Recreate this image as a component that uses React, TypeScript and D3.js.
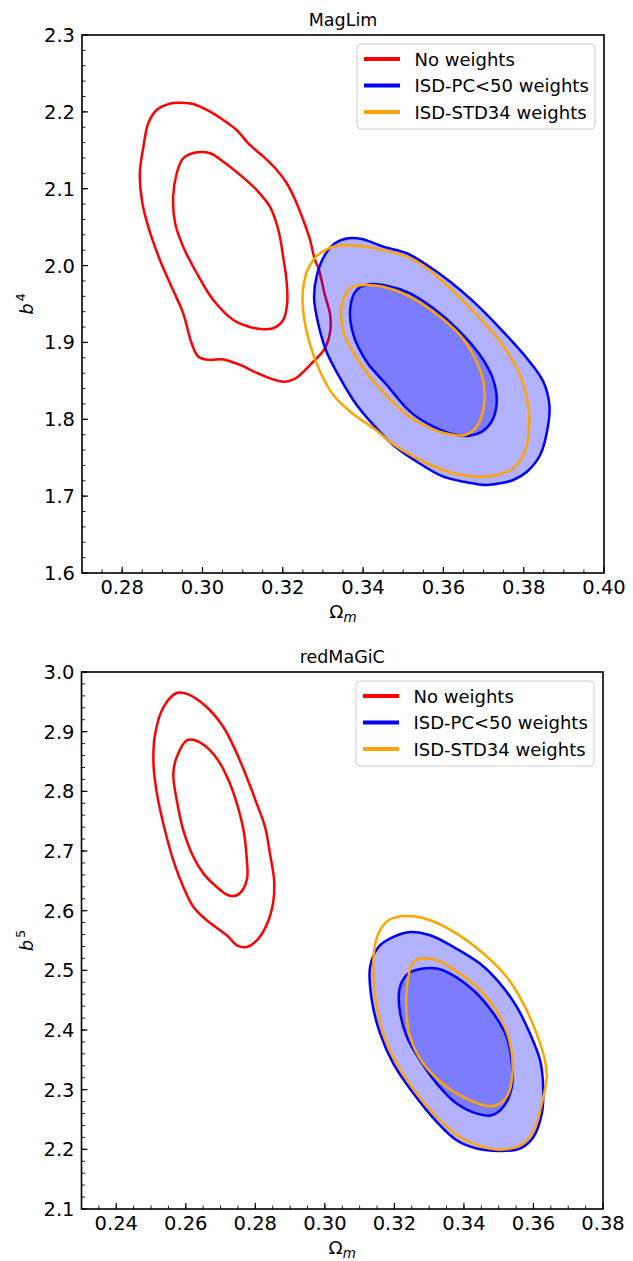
import React from 'react';
import * as d3 from 'd3';

type Pt = [number, number];

// ---------- legend / series ----------
const seriesNames = ['No weights', 'ISD-PC<50 weights', 'ISD-STD34 weights'];
const seriesColors = ['#ff0000', '#0000ff', '#ffa500'];

// ---------- ticks ----------
const magLimXTicks = [0.28, 0.30, 0.32, 0.34, 0.36, 0.38, 0.40];
const magLimYTicks = [1.6, 1.7, 1.8, 1.9, 2.0, 2.1, 2.2, 2.3];
const redMaGiCXTicks = [0.24, 0.26, 0.28, 0.30, 0.32, 0.34, 0.36, 0.38];
const redMaGiCYTicks = [2.1, 2.2, 2.3, 2.4, 2.5, 2.6, 2.7, 2.8, 2.9, 3.0];

// ---------- MagLim contours (Omega_m, b^4) ----------
const magLimNoWOuter: Pt[] = [
  [0.2948, 2.2119], [0.2977, 2.2102], [0.3019, 2.2002], [0.3052, 2.1894], [0.3085, 2.1764],
  [0.3118, 2.1569], [0.3152, 2.1417], [0.3185, 2.1244], [0.3210, 2.1071], [0.3231, 2.0853],
  [0.3251, 2.0593], [0.3268, 2.0333], [0.3280, 2.0073], [0.3289, 1.9965], [0.3305, 1.9617],
  [0.3318, 1.9357], [0.3318, 1.9140], [0.3305, 1.8924], [0.3276, 1.8749], [0.3243, 1.8576],
  [0.3232, 1.8533], [0.3202, 1.8489], [0.3136, 1.8602], [0.3094, 1.8707], [0.3048, 1.8781],
  [0.3019, 1.8772], [0.2990, 1.8814], [0.2973, 1.8989], [0.2952, 1.9379], [0.2923, 1.9725],
  [0.2894, 2.0073], [0.2865, 2.0506], [0.2849, 2.0853], [0.2844, 2.1201], [0.2853, 2.1547],
  [0.2865, 2.1851], [0.2886, 2.2024], [0.2923, 2.2111],
];
const magLimNoWInner: Pt[] = [
  [0.2986, 2.1474], [0.3019, 2.1461], [0.3052, 2.1352], [0.3094, 2.1178], [0.3135, 2.0983],
  [0.3168, 2.0766], [0.3189, 2.0463], [0.3201, 2.0116], [0.3210, 1.9769], [0.3211, 1.9509],
  [0.3201, 1.9292], [0.3176, 1.9184], [0.3143, 1.9175], [0.3110, 1.9214], [0.3077, 1.9292],
  [0.3027, 1.9552], [0.2986, 1.9900], [0.2952, 2.0246], [0.2932, 2.0550], [0.2927, 2.0896],
  [0.2936, 2.1201], [0.2952, 2.1396],
];
const magLimPCOuter: Pt[] = [
  [0.3363, 2.0355], [0.3397, 2.0346], [0.3450, 2.0246], [0.3509, 2.0160], [0.3559, 2.0008],
  [0.3617, 1.9790], [0.3675, 1.9530], [0.3741, 1.9184], [0.3808, 1.8794], [0.3849, 1.8489],
  [0.3864, 1.8186], [0.3861, 1.7926], [0.3841, 1.7535], [0.3808, 1.7318], [0.3774, 1.7210],
  [0.3741, 1.7167], [0.3708, 1.7145], [0.3658, 1.7180], [0.3600, 1.7253], [0.3534, 1.7448],
  [0.3475, 1.7666], [0.3426, 1.7926], [0.3384, 1.8186], [0.3343, 1.8533], [0.3309, 1.8879],
  [0.3289, 1.9227], [0.3278, 1.9574], [0.3285, 1.9877], [0.3305, 2.0138], [0.3330, 2.0290],
];
const magLimPCInner: Pt[] = [
  [0.3417, 1.9756], [0.3459, 1.9738], [0.3517, 1.9639], [0.3575, 1.9444], [0.3633, 1.9184],
  [0.3691, 1.8837], [0.3723, 1.8533], [0.3733, 1.8229], [0.3720, 1.7969], [0.3696, 1.7839],
  [0.3666, 1.7787], [0.3633, 1.7796], [0.3575, 1.7904], [0.3517, 1.8099], [0.3459, 1.8446],
  [0.3409, 1.8749], [0.3376, 1.9097], [0.3368, 1.9444], [0.3384, 1.9682],
];
const magLimSTDOuter: Pt[] = [
  [0.3293, 2.0160], [0.3326, 2.0246], [0.3384, 2.0259], [0.3450, 2.0203], [0.3509, 2.0116],
  [0.3559, 1.9965], [0.3617, 1.9704], [0.3683, 1.9357], [0.3741, 1.9010], [0.3783, 1.8663],
  [0.3808, 1.8273], [0.3814, 1.7926], [0.3803, 1.7578], [0.3774, 1.7362], [0.3733, 1.7275],
  [0.3683, 1.7253], [0.3625, 1.7297], [0.3559, 1.7428], [0.3484, 1.7644], [0.3426, 1.7883],
  [0.3368, 1.8099], [0.3326, 1.8316], [0.3293, 1.8619], [0.3268, 1.8967], [0.3251, 1.9400],
  [0.3250, 1.9660], [0.3260, 1.9920], [0.3276, 2.0073],
];
const magLimSTDInner: Pt[] = [
  [0.3405, 1.9747], [0.3450, 1.9725], [0.3509, 1.9617], [0.3575, 1.9400], [0.3641, 1.9097],
  [0.3683, 1.8749], [0.3701, 1.8446], [0.3700, 1.8143], [0.3683, 1.7904], [0.3654, 1.7796],
  [0.3625, 1.7796], [0.3567, 1.7883], [0.3500, 1.8099], [0.3434, 1.8446], [0.3384, 1.8794],
  [0.3351, 1.9140], [0.3347, 1.9487], [0.3368, 1.9704],
];

// ---------- redMaGiC contours (Omega_m, b^5) ----------
const redNoWOuter: Pt[] = [
  [0.2574, 2.9648], [0.2607, 2.9626], [0.2660, 2.9413], [0.2708, 2.9078], [0.2747, 2.8632],
  [0.2775, 2.8240], [0.2804, 2.7795], [0.2828, 2.7402], [0.2842, 2.6957], [0.2854, 2.6509],
  [0.2852, 2.6174], [0.2838, 2.5839], [0.2809, 2.5532], [0.2775, 2.5391], [0.2747, 2.5420],
  [0.2718, 2.5587], [0.2660, 2.5839], [0.2622, 2.6062], [0.2593, 2.6397], [0.2564, 2.6844],
  [0.2540, 2.7347], [0.2517, 2.7962], [0.2507, 2.8465], [0.2512, 2.8968], [0.2536, 2.9413],
];
const redNoWInner: Pt[] = [
  [0.2603, 2.8855], [0.2632, 2.8844], [0.2670, 2.8688], [0.2699, 2.8465], [0.2727, 2.8130],
  [0.2747, 2.7795], [0.2766, 2.7347], [0.2775, 2.6900], [0.2777, 2.6564], [0.2766, 2.6370],
  [0.2747, 2.6258], [0.2722, 2.6258], [0.2689, 2.6397], [0.2651, 2.6621], [0.2622, 2.6900],
  [0.2593, 2.7347], [0.2574, 2.7850], [0.2564, 2.8297], [0.2574, 2.8575],
];
const redPCOuter: Pt[] = [
  [0.3245, 2.5643], [0.3303, 2.5587], [0.3370, 2.5391], [0.3446, 2.5113], [0.3504, 2.4778],
  [0.3552, 2.4386], [0.3590, 2.3940], [0.3619, 2.3493], [0.3628, 2.3045], [0.3624, 2.2599],
  [0.3600, 2.2207], [0.3561, 2.2013], [0.3504, 2.1973], [0.3437, 2.2013], [0.3379, 2.2152],
  [0.3322, 2.2459], [0.3255, 2.2935], [0.3197, 2.3437], [0.3159, 2.3940], [0.3135, 2.4498],
  [0.3130, 2.5056], [0.3154, 2.5391], [0.3197, 2.5559],
];
const redPCInner: Pt[] = [
  [0.3283, 2.5029], [0.3322, 2.5029], [0.3360, 2.4946], [0.3427, 2.4666], [0.3485, 2.4275],
  [0.3523, 2.3883], [0.3538, 2.3437], [0.3538, 2.3045], [0.3513, 2.2710], [0.3480, 2.2571],
  [0.3437, 2.2599], [0.3379, 2.2767], [0.3322, 2.3102], [0.3274, 2.3493], [0.3236, 2.3883],
  [0.3214, 2.4386], [0.3216, 2.4721], [0.3240, 2.4946],
];
const redSTDOuter: Pt[] = [
  [0.3221, 2.5906], [0.3255, 2.5906], [0.3303, 2.5839], [0.3379, 2.5616], [0.3456, 2.5281],
  [0.3523, 2.4889], [0.3571, 2.4443], [0.3609, 2.3940], [0.3633, 2.3493], [0.3638, 2.3213],
  [0.3624, 2.2767], [0.3605, 2.2375], [0.3571, 2.2097], [0.3513, 2.1996], [0.3456, 2.2040],
  [0.3389, 2.2207], [0.3331, 2.2487], [0.3264, 2.2935], [0.3207, 2.3437], [0.3168, 2.3940],
  [0.3144, 2.4610], [0.3140, 2.5224], [0.3154, 2.5616], [0.3183, 2.5839],
];
const redSTDInner: Pt[] = [
  [0.3279, 2.5197], [0.3322, 2.5168], [0.3389, 2.4946], [0.3456, 2.4610], [0.3504, 2.4218],
  [0.3533, 2.3772], [0.3540, 2.3325], [0.3528, 2.2935], [0.3504, 2.2767], [0.3475, 2.2722],
  [0.3418, 2.2822], [0.3351, 2.3045], [0.3283, 2.3437], [0.3245, 2.3883], [0.3234, 2.4386],
  [0.3240, 2.4889], [0.3255, 2.5140],
];

const FONT = 'DejaVu Sans, sans-serif';

type PanelProps = {
  id: string;
  title: string;
  sup: string;
  xDomain: [number, number];
  yDomain: [number, number];
  xTicks: number[];
  yTicks: number[];
  box: { left: number; right: number; top: number; bottom: number };
  red: Pt[][];
  blue: Pt[][];
  orange: Pt[][];
};

function Panel(p: PanelProps) {
  const { left, right, top, bottom } = p.box;
  const x = d3.scaleLinear().domain(p.xDomain).range([left, right]);
  const y = d3.scaleLinear().domain(p.yDomain).range([bottom, top]);
  const line = d3
    .line<Pt>()
    .x((d) => x(d[0]))
    .y((d) => y(d[1]))
    .curve(d3.curveCatmullRomClosed.alpha(0.5));

  const xMinor = d3.range(p.xDomain[0], p.xDomain[1] + 1e-9, 0.005).filter((v) => v > p.xDomain[0] + 1e-9 && v < p.xDomain[1] - 1e-9);
  const yMinor = d3.range(p.yDomain[0], p.yDomain[1] + 1e-9, 0.02).filter((v) => v > p.yDomain[0] + 1e-9 && v < p.yDomain[1] - 1e-9);
  const fmtX = d3.format('.2f');
  const fmtY = d3.format('.1f');
  const cx = (left + right) / 2;
  const cy = (top + bottom) / 2;

  const legLeft = right - 247;
  const legTop = top + 9;
  const lw = 2.5;

  return (
    <g>
      <defs>
        <clipPath id={`clip-${p.id}`}>
          <rect x={left} y={top} width={right - left} height={bottom - top} />
        </clipPath>
      </defs>
      <text x={cx} y={top - 9} textAnchor="middle" fontFamily={FONT} fontSize={17.5}>
        {p.title}
      </text>
      <g clipPath={`url(#clip-${p.id})`}>
        {p.red.map((c, i) => (
          <path key={'r' + i} d={line(c) || ''} fill="none" stroke={seriesColors[0]} strokeWidth={lw} />
        ))}
        {p.blue.map((c, i) => (
          <path key={'bf' + i} d={line(c) || ''} fill={seriesColors[1]} fillOpacity={0.3} stroke="none" />
        ))}
        {p.blue.map((c, i) => (
          <path key={'b' + i} d={line(c) || ''} fill="none" stroke={seriesColors[1]} strokeWidth={lw} />
        ))}
        {p.orange.map((c, i) => (
          <path key={'o' + i} d={line(c) || ''} fill="none" stroke={seriesColors[2]} strokeWidth={lw} />
        ))}
      </g>
      {/* ticks */}
      {p.xTicks.map((t) => (
        <g key={'xt' + t}>
          <line x1={x(t)} x2={x(t)} y1={bottom} y2={bottom - 6} stroke="#000" strokeWidth={1.2} />
          <text x={x(t)} y={bottom + 21} textAnchor="middle" fontFamily={FONT} fontSize={19.5}>
            {fmtX(t)}
          </text>
        </g>
      ))}
      {xMinor.map((t, i) => (
        <line key={'xm' + i} x1={x(t)} x2={x(t)} y1={bottom} y2={bottom - 3.5} stroke="#000" strokeWidth={0.9} />
      ))}
      {p.yTicks.map((t) => (
        <g key={'yt' + t}>
          <line x1={left} x2={left + 6} y1={y(t)} y2={y(t)} stroke="#000" strokeWidth={1.2} />
          <text x={left - 7} y={y(t) + 7} textAnchor="end" fontFamily={FONT} fontSize={19.5}>
            {fmtY(t)}
          </text>
        </g>
      ))}
      {yMinor.map((t, i) => (
        <line key={'ym' + i} x1={left} x2={left + 3.5} y1={y(t)} y2={y(t)} stroke="#000" strokeWidth={0.9} />
      ))}
      <rect x={left} y={top} width={right - left} height={bottom - top} fill="none" stroke="#000" strokeWidth={1.6} />
      {/* axis labels */}
      <text x={cx} y={bottom + 45} textAnchor="middle" fontFamily={FONT} fontSize={18.5}>
        <tspan>Ω</tspan>
        <tspan fontStyle="italic" fontSize={13.5} dy={4}>m</tspan>
      </text>
      <text transform={`translate(33,${cy}) rotate(-90)`} textAnchor="middle" fontFamily={FONT} fontSize={18}>
        <tspan fontStyle="italic">b</tspan>
        <tspan fontSize={13} dy={-8} dx={2}>{p.sup}</tspan>
      </text>
      {/* legend */}
      <rect x={legLeft} y={legTop} width={238} height={85} rx={4} ry={4} fill="#fff" fillOpacity={0.8} stroke="#d0d0d0" strokeWidth={1} />
      {seriesNames.map((n, i) => (
        <g key={n}>
          <line x1={legLeft + 7} x2={legLeft + 43} y1={legTop + 15 + i * 26.5} y2={legTop + 15 + i * 26.5} stroke={seriesColors[i]} strokeWidth={4} />
          <text x={legLeft + 57.5} y={legTop + 21.5 + i * 26.5} fontFamily={FONT} fontSize={18}>
            {n}
          </text>
        </g>
      ))}
    </g>
  );
}

export default function App() {
  return (
    <svg width={633} height={1261} style={{ position: 'absolute', left: 0, top: 0, display: 'block', background: '#fff' }}>
      <rect x={0} y={0} width={633} height={1261} fill="#fff" />
      <Panel
        id="maglim"
        title="MagLim"
        sup="4"
        xDomain={[0.27, 0.40]}
        yDomain={[1.6, 2.3]}
        xTicks={magLimXTicks}
        yTicks={magLimYTicks}
        box={{ left: 82, right: 604, top: 35, bottom: 573 }}
        red={[magLimNoWOuter, magLimNoWInner]}
        blue={[magLimPCOuter, magLimPCInner]}
        orange={[magLimSTDOuter, magLimSTDInner]}
      />
      <Panel
        id="redmagic"
        title="redMaGiC"
        sup="5"
        xDomain={[0.23, 0.38]}
        yDomain={[2.1, 3.0]}
        xTicks={redMaGiCXTicks}
        yTicks={redMaGiCYTicks}
        box={{ left: 81.5, right: 603, top: 672, bottom: 1209 }}
        red={[redNoWOuter, redNoWInner]}
        blue={[redPCOuter, redPCInner]}
        orange={[redSTDOuter, redSTDInner]}
      />
    </svg>
  );
}
